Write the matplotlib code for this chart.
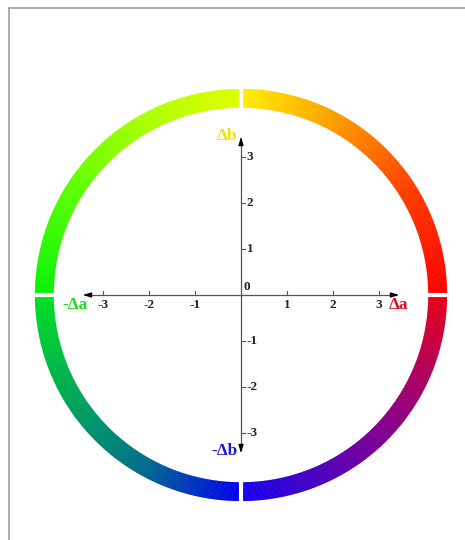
import numpy as np
import matplotlib.pyplot as plt
from matplotlib.patches import Wedge
from matplotlib.colors import to_rgb
from matplotlib.lines import Line2D

# tick values / labels on both axes
ticks = [-3, -2, -1, 1, 2, 3]
tick_labels = ['-3', '-2', '-1', '1', '2', '3']
axis_len = 3.5

# colour ring: stops per quadrant (angle in degrees, colour)
ring_r = (4.07, 4.48)
quadrants = [
    [(0, '#ff0000'), (30, '#ff3800'), (60, '#ff9800'), (90, '#fff000')],
    [(90, '#e0ff00'), (120, '#a8ff00'), (150, '#58ff00'), (180, '#08f008')],
    [(180, '#00e020'), (215, '#00a060'), (240, '#006e8c'), (270, '#0000f0')],
    [(270, '#1400f0'), (300, '#5c00b0'), (330, '#a00070'), (360, '#e80018')],
]

axis_names = ['Δa', '-Δa', 'Δb', '-Δb']
axis_colors = ['#e0102a', '#20d820', '#f5e000', '#1a1ad8']

fig = plt.figure(figsize=(4.65, 5.4), dpi=100)
ax = fig.add_axes([0, 0, 1, 1])
ax.set_xlim(-241 / 46, 224 / 46)
ax.set_ylim(-245 / 46, 295 / 46)
ax.axis('off')

# ring built from thin wedges
for stops in quadrants:
    ang = [s[0] for s in stops]
    cols = np.array([to_rgb(s[1]) for s in stops])
    edges = np.linspace(ang[0], ang[-1], 181)
    for a0, a1 in zip(edges[:-1], edges[1:]):
        mid = 0.5 * (a0 + a1)
        c = [np.interp(mid, ang, cols[:, k]) for k in range(3)]
        ax.add_patch(Wedge((0, 0), ring_r[1], a0, a1 + 0.15,
                           width=ring_r[1] - ring_r[0], color=c, lw=0))

# white gaps at the four axis directions
for a in [0, 90, 180, 270]:
    t = np.deg2rad(a)
    ax.plot([3.9 * np.cos(t), 4.7 * np.cos(t)], [3.9 * np.sin(t), 4.7 * np.sin(t)],
            color='white', lw=3.0, solid_capstyle='butt', zorder=3)

# axes with arrows both ways
ax.plot([-axis_len + 0.15, axis_len - 0.15], [0, 0], color='#555555', lw=0.9)
ax.plot([0, 0], [-axis_len + 0.15, axis_len - 0.15], color='#555555', lw=0.9)
arrow = dict(arrowstyle='-|>,head_length=0.5,head_width=0.15', color='black', lw=0.8)
for dx, dy in [(1, 0), (-1, 0), (0, 1), (0, -1)]:
    ax.annotate('', xy=(dx * axis_len, dy * axis_len),
                xytext=(dx * (axis_len - 0.25), dy * (axis_len - 0.25)),
                arrowprops=arrow)

font = dict(family='Liberation Serif', fontweight='bold', fontsize=9.5, color='#222222')
for v, lab in zip(ticks, tick_labels):
    ax.plot([v, v], [0, 0.08], color='#555555', lw=0.8)
    ax.text(v, -0.08, lab, ha='center', va='top', **font)
    ax.plot([0, 0.08], [v, v], color='#555555', lw=0.8)
    ax.text(0.12, v, lab, ha='left', va='center', **font)
ax.text(0.05, 0.04, '0', ha='left', va='bottom', **font)

lab_font = dict(family='Liberation Serif', fontweight='bold', fontsize=12.5)
ax.text(axis_len - 0.28, -0.22, axis_names[0], ha='left', va='center',
        color=axis_colors[0], **lab_font)
ax.text(-axis_len + 0.17, -0.22, axis_names[1], ha='right', va='center',
        color=axis_colors[1], **lab_font)
ax.text(-0.08, axis_len - 0.05, axis_names[2], ha='right', va='center',
        color=axis_colors[2], **lab_font)
ax.text(-0.08, -axis_len + 0.1, axis_names[3], ha='right', va='center',
        color=axis_colors[3], **lab_font)

# frame lines (top and left) of the original figure
fig.add_artist(Line2D([9 / 465, 1], [1 - 8 / 540, 1 - 8 / 540], color='#a0a0a0', lw=1.2))
fig.add_artist(Line2D([9 / 465, 9 / 465], [0, 1 - 8 / 540], color='#a0a0a0', lw=1.2))

fig.savefig('out.png', dpi=100, facecolor='white')
